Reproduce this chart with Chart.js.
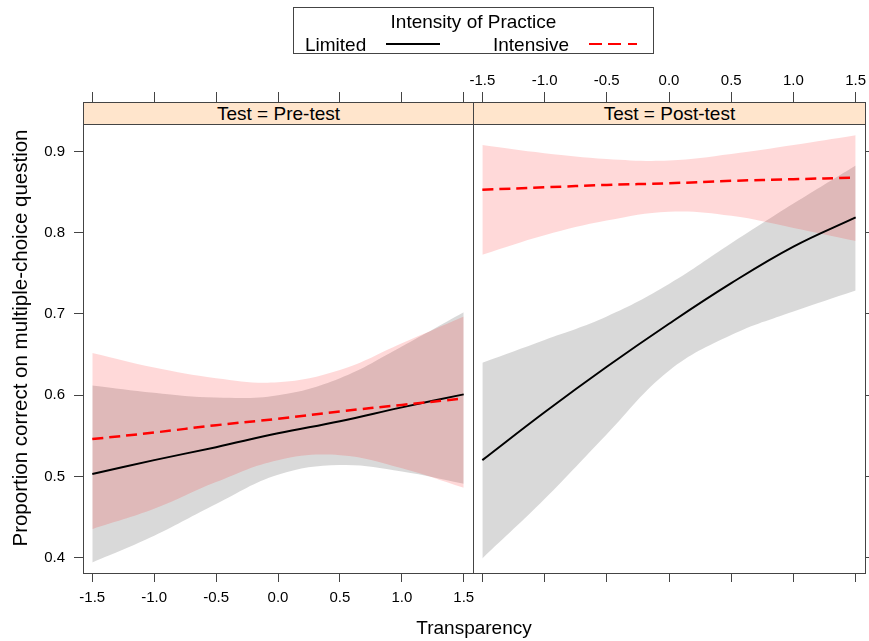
<!DOCTYPE html>
<html>
<head>
<meta charset="utf-8">
<script src="https://cdn.jsdelivr.net/npm/chart.js@4.4.1/dist/chart.umd.min.js"></script>
<style>
  body { margin: 0; background: #fff; }
  #page { position: relative; width: 869px; height: 641px; overflow: hidden; font-family: "Liberation Sans", Arial, sans-serif; color: #000; }
  canvas { position: absolute; top: 0; }
  .strip { position: absolute; top: 102px; height: 23px; box-sizing: border-box; border: 1px solid #444; background: #ffe5cc; text-align: center; font-size: 19px; line-height: 21px; z-index: 2; }
  .txt { position: absolute; font-size: 19px; line-height: 20px; white-space: nowrap; }
  #legendBox { position: absolute; left: 293px; top: 7px; width: 361px; height: 47px; box-sizing: border-box; border: 1px solid #444; }
</style>
</head>
<body>
<div id="page">
  <canvas id="preChart" width="474" height="641" style="left:0"></canvas>
  <canvas id="postChart" width="409" height="641" style="left:460px"></canvas>

  <div class="strip" style="left:83px;width:391px">Test = Pre-test</div>
  <div class="strip" style="left:473px;width:393px">Test = Post-test</div>

  <div id="legendBox"></div>
  <div class="txt" style="left:293px;width:361px;top:12px;text-align:center">Intensity of Practice</div>
  <div class="txt" style="left:305px;top:35px">Limited</div>
  <div style="position:absolute;left:386px;top:43px;width:54px;height:2px;background:#000"></div>
  <div class="txt" style="left:493px;top:35px">Intensive</div>
  <div style="position:absolute;left:589px;top:43px;width:48px;height:2px;background:repeating-linear-gradient(to right,#ff0000 0 13px,transparent 13px 19.5px)"></div>

  <div class="txt" style="left:-280px;width:600px;top:327px;font-size:20.5px;line-height:22px;text-align:center;transform:rotate(-90deg)">Proportion correct on multiple-choice question</div>
  <div class="txt" style="left:83px;width:782px;top:618px;text-align:center">Transparency</div>
</div>

<script>
const xVals = [-1.5, -1.0, -0.5, 0.0, 0.5, 1.0, 1.5];
const xTicks = [-1.5, -1.0, -0.5, 0.0, 0.5, 1.0, 1.5];
const yTicks = [0.4, 0.5, 0.6, 0.7, 0.8, 0.9];

// Test = Pre-test
const preLimitedFit = [0.503, 0.520, 0.536, 0.553, 0.568, 0.585, 0.601];
const preLimitedUpper = [0.612, 0.603, 0.597, 0.600, 0.621, 0.660, 0.702];
const preLimitedLower = [0.394, 0.427, 0.466, 0.502, 0.514, 0.506, 0.491];
const preIntensiveFit = [0.546, 0.554, 0.563, 0.571, 0.580, 0.588, 0.596];
const preIntensiveUpper = [0.652, 0.634, 0.621, 0.616, 0.631, 0.664, 0.697];
const preIntensiveLower = [0.435, 0.460, 0.493, 0.520, 0.526, 0.510, 0.486];

// Test = Post-test
const postLimitedFit = [0.520, 0.579, 0.635, 0.688, 0.738, 0.783, 0.819];
const postLimitedUpper = [0.640, 0.668, 0.697, 0.737, 0.787, 0.836, 0.883];
const postLimitedLower = [0.399, 0.472, 0.552, 0.630, 0.674, 0.703, 0.729];
const postIntensiveFit = [0.853, 0.856, 0.859, 0.861, 0.864, 0.866, 0.868];
const postIntensiveUpper = [0.908, 0.898, 0.891, 0.889, 0.897, 0.908, 0.920];
const postIntensiveLower = [0.773, 0.797, 0.815, 0.826, 0.821, 0.806, 0.790];

const X_MIN = -1.575, X_MAX = 1.575;
const Y_MIN = 0.381, Y_MAX = 0.934;
const FRAME = '#444';
const FONT = { family: '"Liberation Sans", Arial, sans-serif', size: 15 };

const toPoints = ys => xVals.map((x, i) => ({ x, y: ys[i] }));

function bandEdge(ys, fill, color) {
  return {
    data: toPoints(ys),
    borderWidth: 0,
    pointRadius: 0,
    backgroundColor: color,
    fill,
    tension: 0.4
  };
}

function buildDatasets(s) {
  // first dataset is drawn on top in Chart.js
  return [
    { data: toPoints(s.intFit), borderColor: '#ff0000', borderWidth: 2.5, borderDash: [11, 6], pointRadius: 0, fill: false, tension: 0.4 },
    { data: toPoints(s.limFit), borderColor: '#000', borderWidth: 2, pointRadius: 0, fill: false, tension: 0.4 },
    bandEdge(s.intUp, '+1', 'rgba(255,0,0,0.15)'),
    bandEdge(s.intLo, false, 'rgba(255,0,0,0.15)'),
    bandEdge(s.limUp, '+1', 'rgba(0,0,0,0.15)'),
    bandEdge(s.limLo, false, 'rgba(0,0,0,0.15)')
  ];
}

function fixSize(prop, value) {
  return scale => {
    scale[prop] = value;
    scale.paddingLeft = 0;
    scale.paddingRight = 0;
    scale.paddingTop = 0;
    scale.paddingBottom = 0;
  };
}

function setTicks(values) {
  return scale => { scale.ticks = values.map(value => ({ value })); };
}

function axis(opts) {
  return {
    type: 'linear',
    position: opts.position,
    min: opts.min,
    max: opts.max,
    afterBuildTicks: setTicks(opts.ticks || []),
    afterFit: fixSize(opts.sizeProp, opts.size),
    border: { display: true, color: FRAME, width: 1 },
    grid: {
      drawOnChartArea: false,
      drawTicks: opts.tickLength > 0,
      tickLength: opts.tickLength,
      tickColor: FRAME,
      tickWidth: 1
    },
    ticks: {
      display: !!opts.labels,
      color: '#000',
      font: FONT,
      padding: opts.padding || 0,
      maxRotation: 0,
      autoSkip: false,
      callback: v => Number(v).toFixed(1)
    }
  };
}

function makePanel(id, series, side) {
  const left = side === 'left';
  return new Chart(document.getElementById(id), {
    type: 'line',
    data: { datasets: buildDatasets(series) },
    options: {
      responsive: false,
      animation: false,
      layout: { padding: { left: left ? 0 : 13, right: left ? 1 : 0, top: 0, bottom: 0 } },
      plugins: { legend: { display: false }, tooltip: { enabled: false } },
      scales: {
        x: axis({ position: 'bottom', min: X_MIN, max: X_MAX, ticks: xTicks, sizeProp: 'height', size: 68, tickLength: 9, labels: left, padding: 7 }),
        xTop: axis({ position: 'top', min: X_MIN, max: X_MAX, ticks: xTicks, sizeProp: 'height', size: 124, tickLength: 32, labels: !left, padding: 2 }),
        y: axis({ position: 'left', min: Y_MIN, max: Y_MAX, ticks: left ? yTicks : [], sizeProp: 'width', size: left ? 83 : 0, tickLength: left ? 9 : 0, labels: left, padding: 9 }),
        yRight: axis({ position: 'right', min: Y_MIN, max: Y_MAX, ticks: left ? [] : yTicks, sizeProp: 'width', size: left ? 0 : 4, tickLength: left ? 0 : 9, labels: false })
      }
    }
  });
}

makePanel('preChart', {
  limFit: preLimitedFit, limUp: preLimitedUpper, limLo: preLimitedLower,
  intFit: preIntensiveFit, intUp: preIntensiveUpper, intLo: preIntensiveLower
}, 'left');

makePanel('postChart', {
  limFit: postLimitedFit, limUp: postLimitedUpper, limLo: postLimitedLower,
  intFit: postIntensiveFit, intUp: postIntensiveUpper, intLo: postIntensiveLower
}, 'right');
</script>
</body>
</html>
